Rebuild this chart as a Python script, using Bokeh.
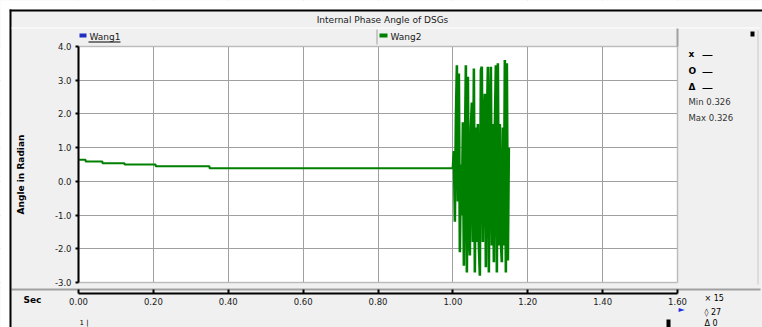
import math
from bokeh.plotting import figure
from bokeh.models import Range1d, FixedTicker, PrintfTickFormatter, BoxAnnotation, Label
from bokeh.embed import file_html
from bokeh.resources import INLINE

# ---------------- data ----------------
title_text = "Internal Phase Angle of DSGs"
series_names = ["Wang1", "Wang2"]
x_ticks = [0.0, 0.2, 0.4, 0.6, 0.8, 1.0, 1.2, 1.4, 1.6]
y_ticks = [-3.0, -2.0, -1.0, 0.0, 1.0, 2.0, 3.0, 4.0]

# pre-disturbance (step-wise decaying angle), Wang2
t_pre = [0.0, 0.019, 0.064, 0.123, 0.206, 0.350, 1.000]
v_pre = [0.64, 0.59, 0.54, 0.50, 0.445, 0.39, 0.39]

# oscillation after disturbance, Wang2
t_osc = [1.0000, 1.0027, 1.0053, 1.0080, 1.0107, 1.0134, 1.0160, 1.0187, 1.0214, 1.0240,
         1.0267, 1.0294, 1.0320, 1.0347, 1.0374, 1.0401, 1.0427, 1.0454, 1.0481, 1.0507,
         1.0534, 1.0561, 1.0587, 1.0614, 1.0641, 1.0668, 1.0694, 1.0721, 1.0748, 1.0774,
         1.0801, 1.0828, 1.0854, 1.0881, 1.0908, 1.0935, 1.0961, 1.0988, 1.1015, 1.1041,
         1.1068, 1.1095, 1.1121, 1.1148, 1.1175, 1.1202, 1.1228, 1.1255, 1.1282, 1.1308,
         1.1335, 1.1362, 1.1388, 1.1415, 1.1442, 1.1469, 1.1495]
v_osc = [0.39, 0.9, -1.2, 1.8, 3.44, -0.6, 3.2, -2.1, 0.5, -1.0,
         1.75, -2.5, 0.8, 3.44, -2.7, 3.1, -1.6, -2.2, 1.6, 2.34,
         -1.8, 3.35, -2.7, 1.6, -1.8, 1.7, -1.9, -2.8, 3.3, 3.4,
         -1.8, 1.6, 2.6, -2.55, 1.7, 3.4, -2.7, 1.6, 3.4, -1.9,
         1.7, -2.4, 1.6, 3.44, -2.7, 3.5, -1.9, 1.7, -1.8, -2.4,
         1.6, -1.9, 3.6, -2.7, 3.5, -2.35, 1.0]

min_text = "Min 0.326"
max_text = "Max 0.326"

# ---------------- layout helpers (page pixels -> data units) ----------------
W, H = 762, 327
FONT = "DejaVu Sans"
GRID = "#a0a0a0"
BG = "#f0f0f0"
GREEN = "#008000"
TXT = "#1a1a1a"

X0_PX, X_SCALE = 78.0, 599.0 / 1.6      # x = 0 at page x 78, 1.6 at 677
Y4_PX, Y_SCALE = 46.0, 236.0 / 7.0      # y = 4 at page y 46, -3 at 282


def X(px):
    return (px - X0_PX) / X_SCALE


def Y(py):
    return 4.0 - (py - Y4_PX) / Y_SCALE


p = figure(width=W, height=H, output_backend="svg", toolbar_location=None,
           x_range=Range1d(X(0), X(W)), y_range=Range1d(Y(H), Y(0)),
           min_border_left=0, min_border_right=0, min_border_top=0, min_border_bottom=0)
p.border_fill_color = BG
p.background_fill_color = "white"
p.outline_line_color = None

# axes (placed at fixed positions inside the canvas-wide frame)
p.xaxis.fixed_location = Y(292.5)
p.xaxis.bounds = (0.0, 1.6)
p.xaxis.ticker = FixedTicker(ticks=x_ticks)
p.xaxis.formatter = PrintfTickFormatter(format="%.2f")
p.xaxis.major_tick_in = 4
p.xaxis.major_tick_out = 0
p.xaxis.minor_tick_line_color = None
p.xaxis.axis_line_width = 2
p.xaxis.axis_line_color = "black"
p.xaxis.major_tick_line_width = 2
p.xaxis.major_label_text_font = FONT
p.xaxis.major_label_text_font_size = "8.5px"
p.xaxis.major_label_text_color = TXT
p.xaxis.major_label_standoff = 5
p.xaxis.level = "overlay"

p.yaxis.fixed_location = 0.0
p.yaxis.bounds = (-3.0, 4.0)
p.yaxis.ticker = FixedTicker(ticks=y_ticks)
p.yaxis.formatter = PrintfTickFormatter(format="%.1f")
p.yaxis.major_tick_in = 0
p.yaxis.major_tick_out = 3
p.yaxis.minor_tick_line_color = None
p.yaxis.axis_line_width = 2
p.yaxis.axis_line_color = "black"
p.yaxis.major_tick_line_width = 2
p.yaxis.major_label_text_font = FONT
p.yaxis.major_label_text_font_size = "8.5px"
p.yaxis.major_label_text_color = TXT
p.yaxis.major_label_standoff = 4
p.yaxis.level = "overlay"

p.xgrid.ticker = FixedTicker(ticks=x_ticks)
p.ygrid.ticker = FixedTicker(ticks=y_ticks)
p.xgrid.grid_line_color = GRID
p.ygrid.grid_line_color = GRID

# data
p.step(t_pre, v_pre, mode="after", line_width=2, line_color=GREEN)
p.line(t_osc, v_osc, line_width=2.6, line_color=GREEN)


def box(l=None, t=None, r=None, b=None, color=BG, line=None, lw=1, fill=1.0):
    kw = {}
    if l is not None:
        kw["left"] = X(l)
    if r is not None:
        kw["right"] = X(r)
    if t is not None:
        kw["top"] = Y(t)
    if b is not None:
        kw["bottom"] = Y(b)
    p.add_layout(BoxAnnotation(fill_color=color, fill_alpha=fill, line_color=line,
                               line_width=lw, **kw))


def label(x, y, text, size="8.5px", align="left", color=TXT, style="normal", angle=0.0):
    p.add_layout(Label(x=X(x), y=Y(y), text=text, text_font=FONT, text_font_size=size,
                       text_align=align, text_baseline="middle", text_color=color,
                       text_font_style=style, angle=angle))


# grey surroundings of the plot area
box(r=78)
box(l=677)
box(b=46)
box(t=282)
# plot area border (top/right/bottom grey)
box(l=78, r=677, t=46, b=282, color=None, fill=0.0, line=GRID, lw=2)
# separator line between plot and time axis
box(l=11, r=760, t=288, b=290, color=GRID)

# window frame
box(b=9, color="white")
box(l=9, t=9, b=11, color="black")
box(r=9, color="white")
box(l=9, r=11, t=9, color="black")
# title / legend bars
box(l=11, r=760, t=27, b=28, color="white")
box(l=376, r=377, t=29, b=44, color=GRID)
box(l=676, r=678, t=28, b=46, color=GRID)
box(l=757, r=758, t=30, b=284, color="#c8c8c8")
# legend markers
box(l=79, r=86, t=33, b=37, color="#1f2fbf")
box(l=379, r=387, t=33, b=37, color=GREEN)
box(l=88, r=120, t=41, b=42, color="black")
# misc small marks
box(l=750, r=754, t=31, b=36, color="black")
box(l=666, r=670, t=319, color="black")

label(382, 19, title_text, size="9px", align="center")
label(89, 36, series_names[0], size="9px")
label(390, 36, series_names[1], size="9px")
label(20, 174, "Angle in Radian", size="9px", align="center", style="bold",
      color="black", angle=math.pi / 2)

# right info panel
label(688, 53, "x", size="9px", color="black", style="bold")
label(688, 70, "O", size="9px", color="black", style="bold")
label(688, 86, "Δ", size="9px", color="black", style="bold")
for yy in (55, 72, 88):
    box(l=702, r=712, t=yy - 0.5, b=yy + 0.5, color="black")
label(688, 101, min_text, size="8.5px", color="#333333")
label(688, 117, max_text, size="8.5px", color="#333333")

# bottom area
label(23, 299, "Sec", size="9px", color="black", style="bold")
label(704, 298, "× 15", size="8px", color="black")
label(704, 312, "◊ 27", size="8px", color="black")
label(704, 323, "Δ 0", size="8px", color="black")
label(681, 309, "►", size="8px", align="center", color="#1f2fdf")
label(79, 322, "1 |", size="7px", color="black")

open("out.html", "w").write(file_html(p, INLINE))
